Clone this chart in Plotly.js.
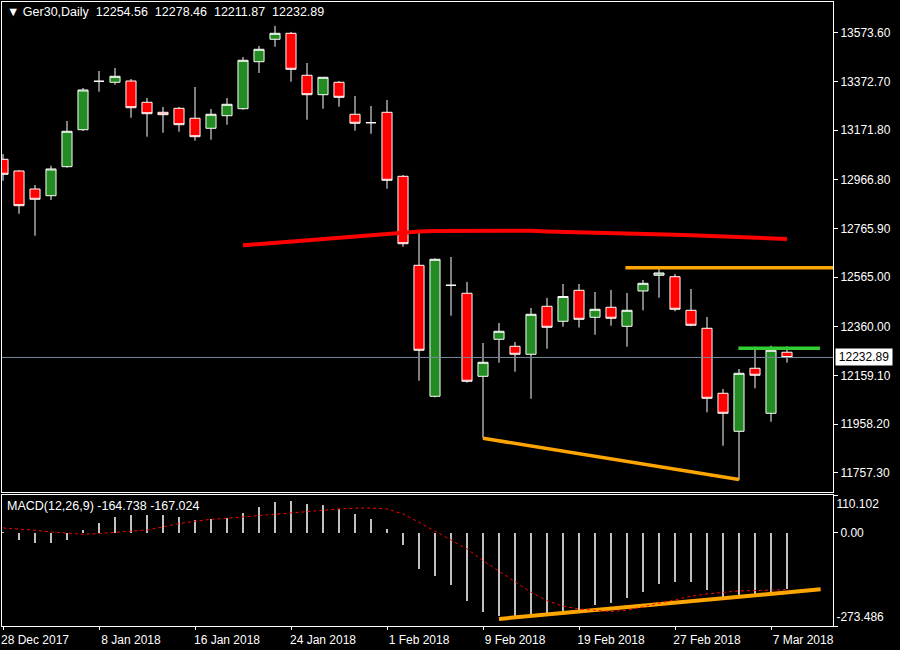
<!DOCTYPE html>
<html><head><meta charset="utf-8">
<script src="https://cdn.plot.ly/plotly-3.0.1.min.js"></script>
<style>html,body{margin:0;padding:0;background:#000;}#chart{width:900px;height:650px;}</style>
</head><body><div id="chart"></div>
<script>
// ---- bar dates (one per trading day) ----
const dates = ['28 Dec 2017','29 Dec 2017','2 Jan 2018','3 Jan 2018','4 Jan 2018','5 Jan 2018',
  '8 Jan 2018','9 Jan 2018','10 Jan 2018','11 Jan 2018','12 Jan 2018','15 Jan 2018',
  '16 Jan 2018','17 Jan 2018','18 Jan 2018','19 Jan 2018','22 Jan 2018','23 Jan 2018',
  '24 Jan 2018','25 Jan 2018','26 Jan 2018','29 Jan 2018','30 Jan 2018','31 Jan 2018',
  '1 Feb 2018','2 Feb 2018','5 Feb 2018','6 Feb 2018','7 Feb 2018','8 Feb 2018',
  '9 Feb 2018','12 Feb 2018','13 Feb 2018','14 Feb 2018','15 Feb 2018','16 Feb 2018',
  '19 Feb 2018','20 Feb 2018','21 Feb 2018','22 Feb 2018','23 Feb 2018','26 Feb 2018',
  '27 Feb 2018','28 Feb 2018','1 Mar 2018','2 Mar 2018','5 Mar 2018','6 Mar 2018',
  '7 Mar 2018','8 Mar 2018'];

// ---- OHLC ----
const openP  = [13051.0,13002.7,12928.4,12900.7,13020.5,13173.2,13373.0,13368.9,13374.2,13286.3,
  13245.0,13261.5,13220.3,13179.0,13231.0,13259.9,13453.9,13546.4,13571.1,13397.8,
  13317.7,13368.9,13236.8,13202.1,13245.0,12980.8,12613.4,12072.7,12530.9,12497.9,
  12155.2,12308.0,12279.1,12246.1,12444.2,12382.3,12510.2,12398.8,12440.1,12361.6,
  12507.4,12572.2,12566.4,12427.7,12353.4,12085.1,11928.2,12188.3,12002.5,12254.56];
const highP  = [13072.9,13006.8,12944.9,13024.6,13209.1,13345.3,13415.5,13427.9,13382.5,13304.1,
  13266.9,13266.9,13349.5,13258.6,13304.1,13473.3,13518.7,13601.3,13576.5,13448.5,
  13389.5,13374.2,13312.3,13271.0,13295.8,12986.2,12749.7,12642.3,12647.7,12544.5,
  12292.7,12375.3,12296.8,12437.2,12478.5,12536.2,12536.2,12503.2,12511.5,12499.1,
  12552.8,12601.1,12577.5,12515.6,12400.0,12102.8,12185.4,12277.4,12281.6,12278.46];
const lowP   = [12962.7,12826.4,12735.6,12883.0,13016.3,13167.8,13330.1,13359.0,13222.7,13144.3,
  13160.8,13164.9,13127.8,13131.9,13193.8,13255.8,13407.3,13515.8,13371.3,13214.5,
  13259.9,13268.1,13169.1,13156.7,12929.6,12690.2,12137.1,12068.0,12405.4,12128.8,
  11899.3,12211.4,12174.2,12062.8,12269.2,12360.0,12356.7,12327.0,12364.1,12277.4,
  12427.7,12479.7,12423.6,12361.6,12006.6,11868.7,11727.2,12105.7,11967.8,12211.87];
const closeP = [12989.1,12859.5,12885.9,13011.0,13166.6,13337.1,13373.0,13393.6,13264.0,13239.2,
  13235.1,13193.8,13144.3,13236.8,13278.0,13459.7,13505.1,13571.1,13422.5,13317.7,
  13389.5,13306.9,13199.6,13202.1,12964.3,12702.6,12262.6,12638.2,12530.9,12134.6,
  12213.0,12341.0,12246.1,12411.2,12357.5,12484.6,12390.5,12431.8,12394.7,12427.7,
  12539.1,12581.7,12431.8,12365.8,12064.4,12002.5,12167.6,12159.4,12262.6,12232.89];

// ---- red average line (from 19 Jan 2018 to the last bar) ----
const redStart = '19 Jan 2018';
const redLine = [12696.0,12701.4,12705.5,12709.6,12715.8,12720.8,12724.9,12730.3,12735.2,12740.6,
  12746.8,12753.0,12755.0,12755.8,12756.3,12756.3,12756.3,12756.3,12755.8,12753.0,
  12751.7,12750.9,12748.8,12745.9,12743.9,12743.1,12742.6,12739.8,12737.3,12735.2,
  12732.3,12730.3,12727.4,12724.9,12722.0];

// ---- drawn trend lines (bar position, price) ----
const resistX = [38.9, 53];     const resistY = [12603.5, 12603.5];
const supportX = [30, 46];      const supportY = [11899.3, 11729.0];
const greenX = [45.96, 51.06];  const greenY = [12270.8, 12270.8];
const bidPrice = 12232.89;

// ---- MACD ----
const macdHist = [3,-20.5,-31.2,-31.2,-20.5,8.8,29.3,46.8,52.7,52.7,
  52.7,46.8,38.1,41.0,42.9,58.6,76.1,89.8,93.7,84.9,
  82.0,69.3,55.6,41.0,11.7,-35.1,-105.4,-125.9,-152.3,-201.1,
  -231.3,-243.0,-245.0,-243.0,-237.2,-231.3,-225.5,-212.8,-205.0,-192.3,
  -174.7,-151.3,-145.4,-145.4,-167.0,-190.0,-186.0,-182.0,-175.0,-164.738];
const macdSignal = [13.7,10.7,6.8,2.0,-2.0,-4.9,-2.9,0,2.9,7.8,
  16.6,26.4,33.2,39.0,42.0,45.9,50.8,55.6,59.5,63.4,
  65.4,69.3,71.2,72.2,69.3,54.7,30.3,3.9,-20.5,-47.8,
  -82.0,-113.2,-145.4,-174.7,-199.1,-215.7,-223.5,-227.4,-231.3,-227.4,
  -217.7,-206.0,-196.2,-186.4,-179.6,-174.7,-170.8,-169.8,-167.9,-167.024];
const macdTrendX = [31, 51.1];  const macdTrendY = [-252.8, -165.9];
const macdMax = 110.102, macdMin = -273.486;

// ---- axis ticks ----
const priceTicks = [13573.60,13372.70,13171.80,12966.80,12765.90,12565.00,12360.00,12159.10,11958.20,11757.30];
const dateTickLabels = ['28 Dec 2017','8 Jan 2018','16 Jan 2018','24 Jan 2018','1 Feb 2018','9 Feb 2018','19 Feb 2018','27 Feb 2018','7 Mar 2018'];

const idx = dates.map((d,i)=>i);
const redX = redLine.map((v,i)=>dates.indexOf(redStart)+i);
const dateTickVals = dateTickLabels.map(l=>dates.indexOf(l));

const FONT = 'Liberation Sans, Arial, sans-serif';
const W = '#ffffff';

const traces = [
  {type:'scatter',mode:'lines',x:[-1,53],y:[bidPrice,bidPrice],line:{color:'#778899',width:1},xaxis:'x',yaxis:'y'},
  {type:'scatter',mode:'lines',x:redX,y:redLine,line:{color:'#ff0000',width:4},xaxis:'x',yaxis:'y'},
  {type:'scatter',mode:'lines',x:resistX,y:resistY,line:{color:'#ffa500',width:3.5},xaxis:'x',yaxis:'y'},
  {type:'scatter',mode:'lines',x:supportX,y:supportY,line:{color:'#ffa500',width:3.5},xaxis:'x',yaxis:'y'},
  {type:'scatter',mode:'lines',x:greenX,y:greenY,line:{color:'#32cd32',width:3.5},xaxis:'x',yaxis:'y'},
  {type:'candlestick',x:idx,open:openP,high:highP,low:lowP,close:closeP,xaxis:'x',yaxis:'y',
    whiskerwidth:0,
    increasing:{line:{color:W,width:1},fillcolor:'#228b22'},
    decreasing:{line:{color:W,width:1},fillcolor:'#ff0000'}},
  {type:'bar',x:idx,y:macdHist,width:0.125,marker:{color:'#c0c0c0',line:{width:0}},xaxis:'x2',yaxis:'y2'},
  {type:'scatter',mode:'lines',x:idx,y:macdSignal,line:{color:'#ff0000',width:1,dash:'3px,3px'},xaxis:'x2',yaxis:'y4'},
  {type:'scatter',mode:'lines',x:macdTrendX,y:macdTrendY,line:{color:'#ffa500',width:4},xaxis:'x2',yaxis:'y3'}
];

const xr = [-0.0625, 51.875];
const lineAx = {showline:true,mirror:true,linecolor:W,linewidth:1,showgrid:false,zeroline:false};
const macdRange = [macdMin, macdMax];

const layout = {
  width:900,height:650,
  paper_bgcolor:'#000',plot_bgcolor:'#000',
  margin:{l:2,r:67,t:2,b:24},
  showlegend:false,hovermode:false,
  font:{family:FONT,size:12,color:W},
  boxgap:0.1,boxgroupgap:0.3,bargap:0,
  title:{text:'▼ Ger30,Daily\u00a0\u00a012254.56\u00a0 12278.46\u00a0 12211.87\u00a0 12232.89',
    x:7/900,xanchor:'left',y:1-12/650,yanchor:'middle',font:{family:FONT,size:12.5,color:W}},
  xaxis:Object.assign({},lineAx,{domain:[0,1],range:xr,anchor:'y',showticklabels:false,ticks:'',rangeslider:{visible:false},fixedrange:true}),
  yaxis:Object.assign({},lineAx,{domain:[134/624,1],range:[11677.6,13700.3],side:'right',anchor:'x',
    tickvals:priceTicks,ticktext:priceTicks.map(v=>v.toFixed(2)),ticks:'outside',ticklen:4,tickcolor:W,
    tickfont:{family:FONT,size:12,color:W}}),
  xaxis2:Object.assign({},lineAx,{domain:[0,1],range:xr,anchor:'y2',matches:'x',
    tickvals:dateTickVals,ticktext:dateTickLabels,ticks:'outside',ticklen:3,tickcolor:W,ticklabelshift:32,
    ticklabeloverflow:'allow',tickfont:{family:FONT,size:12,color:W}}),
  yaxis2:Object.assign({},lineAx,{domain:[0,131/624],range:macdRange,side:'right',anchor:'x2',
    tickvals:[0],ticktext:['0.00'],ticks:'outside',ticklen:4,tickcolor:W,tickfont:{family:FONT,size:12,color:W}}),
  yaxis3:{overlaying:'y2',anchor:'x2',side:'right',range:macdRange,showgrid:false,zeroline:false,showline:false,
    tickvals:[macdMax],ticktext:[String(macdMax)],ticks:'outside',ticklen:4,tickcolor:W,ticklabelposition:'outside bottom',
    tickfont:{family:FONT,size:12,color:W}},
  yaxis4:{overlaying:'y2',anchor:'x2',side:'right',range:macdRange,showgrid:false,zeroline:false,showline:false,
    tickvals:[macdMin],ticktext:[String(macdMin)],ticks:'outside',ticklen:4,tickcolor:W,ticklabelposition:'outside top',
    tickfont:{family:FONT,size:12,color:W}},
  annotations:[
    {xref:'paper',yref:'y2 domain',x:0,y:1,xanchor:'left',yanchor:'top',xshift:3,yshift:-2,showarrow:false,
      text:'MACD(12,26,9) '+macdHist[macdHist.length-1].toFixed(3)+' '+macdSignal[macdSignal.length-1].toFixed(3),
      font:{family:FONT,size:12.5,color:W}},
    {xref:'paper',yref:'y',x:1,y:bidPrice,xanchor:'left',yanchor:'middle',xshift:2,showarrow:false,
      text:bidPrice.toFixed(2),bgcolor:W,font:{family:FONT,size:12,color:'#000'},width:54,borderpad:1,align:'center'}
  ]
};

Plotly.newPlot('chart',traces,layout,{staticPlot:true,displayModeBar:false});
</script></body></html>
